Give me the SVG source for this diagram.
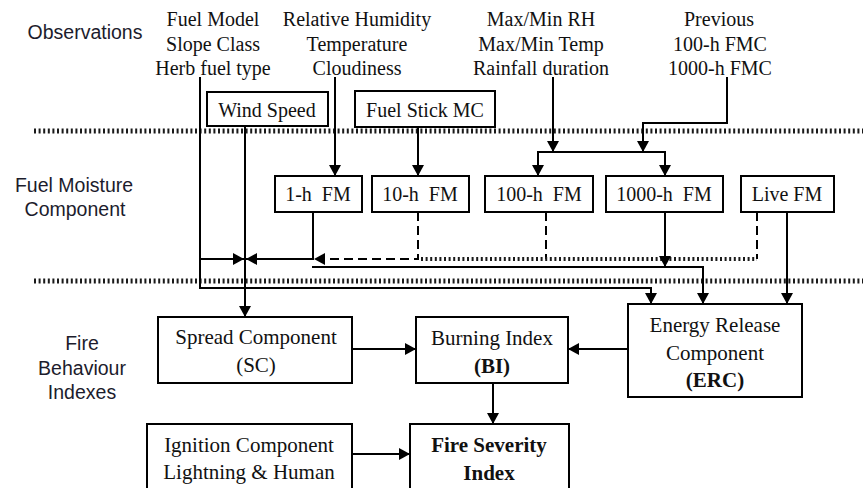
<svg xmlns="http://www.w3.org/2000/svg" width="863" height="488" viewBox="0 0 863 488">
<defs>
<marker id="ah" markerUnits="userSpaceOnUse" markerWidth="12" markerHeight="12" refX="11" refY="6" orient="auto">
<path d="M0,0 L11,6 L0,12 z" fill="#000"/>
</marker>
<style>
.sep{stroke:#1a1a1a;stroke-width:5;stroke-dasharray:2 2.6;fill:none}
.dot{stroke:#1a1a1a;stroke-width:4;stroke-dasharray:2 2.6;fill:none}
.ln{stroke:#000;stroke-width:2;fill:none}
.ar{stroke:#000;stroke-width:2;fill:none;marker-end:url(#ah)}
.ds{stroke:#000;stroke-width:2;fill:none;stroke-dasharray:9 5}
.dsa{stroke:#000;stroke-width:2;fill:none;stroke-dasharray:9 5;marker-end:url(#ah)}
.box{fill:#fff;stroke:#000;stroke-width:2}
.sf{font-family:"Liberation Serif","Times New Roman",serif;font-size:20px;fill:#111;text-anchor:middle}
.sfb{font-family:"Liberation Serif","Times New Roman",serif;font-size:21px;fill:#111;text-anchor:middle}
.b{font-weight:bold}
.ss{font-family:"Liberation Sans",Arial,sans-serif;font-size:19.5px;fill:#1c1c2c;text-anchor:middle}
</style>
</defs>
<rect width="863" height="488" fill="#fff"/>

<g id="separators">
<line class="sep" x1="34" y1="131" x2="863" y2="131"/>
<line class="sep" x1="34" y1="281" x2="863" y2="281"/>
</g>

<g id="section-labels">
<text class="ss" x="85" y="39">Observations</text>
<text class="ss" x="74" y="192">Fuel Moisture</text>
<text class="ss" x="75" y="216">Component</text>
<text class="ss" x="82" y="350">Fire</text>
<text class="ss" x="82" y="375">Behaviour</text>
<text class="ss" x="82" y="399">Indexes</text>
</g>

<g id="obs-fuel">
<text class="sf" x="213" y="26">Fuel Model</text>
<text class="sf" x="213" y="51">Slope Class</text>
<text class="sf" x="213" y="75">Herb fuel type</text>
</g>
<g id="obs-weather">
<text class="sf" x="357" y="26">Relative Humidity</text>
<text class="sf" x="357" y="51">Temperature</text>
<text class="sf" x="357" y="75">Cloudiness</text>
</g>
<g id="obs-maxmin">
<text class="sf" x="541" y="26">Max/Min RH</text>
<text class="sf" x="541" y="51">Max/Min Temp</text>
<text class="sf" x="541" y="75">Rainfall duration</text>
</g>
<g id="obs-previous">
<text class="sf" x="719" y="26">Previous</text>
<text class="sf" x="720" y="51">100-h FMC</text>
<text class="sf" x="720" y="75">1000-h FMC</text>
</g>

<g id="connectors">
<polyline class="ar" points="200,77 200,288 651,288 651,304"/>
<line class="ar" x1="245" y1="126" x2="245" y2="317"/>
<line class="ar" x1="200" y1="259" x2="244" y2="259"/>
<polyline class="ar" points="313,212 313,259 246,259"/>
<polyline class="dsa" points="418,212 418,259 314,259"/>
<line class="ds" x1="546" y1="212" x2="546" y2="259"/>
<line class="ds" x1="757" y1="212" x2="757" y2="259"/>
<line class="dot" x1="421" y1="259" x2="757" y2="259"/>
<line class="ar" x1="665" y1="212" x2="665" y2="267"/>
<polyline class="ar" points="312,267 703,267 703,304"/>
<line class="ar" x1="787" y1="212" x2="787" y2="304"/>
<line class="ar" x1="335" y1="77" x2="335" y2="176"/>
<line class="ar" x1="418" y1="127" x2="418" y2="176"/>
<line class="ar" x1="553" y1="77" x2="553" y2="152"/>
<polyline class="ar" points="727,77 727,123 643,123 643,152"/>
<polyline class="ar" points="538,152 538,176"/>
<polyline class="ar" points="537,152 665,152 665,176"/>
<line class="ar" x1="352" y1="349" x2="416" y2="349"/>
<line class="ar" x1="628" y1="349" x2="568" y2="349"/>
<line class="ar" x1="493" y1="383" x2="493" y2="424"/>
<line class="ar" x1="352" y1="454" x2="410" y2="454"/>
</g>

<g id="wind-speed">
<rect class="box" x="207" y="92" width="121" height="34"/>
<text class="sf" x="267" y="117">Wind Speed</text>
</g>
<g id="fuel-stick-mc">
<rect class="box" x="355" y="91" width="140" height="36"/>
<text class="sf" x="425" y="117">Fuel Stick MC</text>
</g>

<g id="fm-1h">
<rect class="box" x="275" y="176" width="87" height="36"/>
<text class="sf" x="318" y="201" xml:space="preserve">1-h  FM</text>
</g>
<g id="fm-10h">
<rect class="box" x="372" y="176" width="97" height="36"/>
<text class="sf" x="420" y="201" xml:space="preserve">10-h  FM</text>
</g>
<g id="fm-100h">
<rect class="box" x="485" y="176" width="108" height="36"/>
<text class="sf" x="539" y="201" xml:space="preserve">100-h  FM</text>
</g>
<g id="fm-1000h">
<rect class="box" x="606" y="176" width="117" height="36"/>
<text class="sf" x="664" y="201" xml:space="preserve">1000-h  FM</text>
</g>
<g id="fm-live">
<rect class="box" x="741" y="176" width="93" height="36"/>
<text class="sf" x="787" y="201">Live FM</text>
</g>

<g id="spread-component">
<rect class="box" x="158" y="317" width="194" height="66"/>
<text class="sfb" x="256" y="344">Spread Component</text>
<text class="sfb" x="256" y="372">(SC)</text>
</g>
<g id="burning-index">
<rect class="box" x="416" y="317" width="152" height="66"/>
<text class="sfb" x="492" y="345">Burning Index</text>
<text class="sfb b" x="492" y="373">(BI)</text>
</g>
<g id="energy-release">
<rect class="box" x="628" y="304" width="174" height="93"/>
<text class="sfb" x="715" y="332">Energy Release</text>
<text class="sfb" x="715" y="360">Component</text>
<text class="sfb b" x="715" y="387">(ERC)</text>
</g>
<g id="ignition-component">
<rect class="box" x="147" y="424" width="205" height="80"/>
<text class="sfb" x="249" y="452">Ignition Component</text>
<text class="sfb" x="249" y="479">Lightning &amp; Human</text>
</g>
<g id="fire-severity">
<rect class="box" x="410" y="424" width="159" height="80"/>
<text class="sfb b" x="489" y="452">Fire Severity</text>
<text class="sfb b" x="489" y="480">Index</text>
</g>
</svg>
